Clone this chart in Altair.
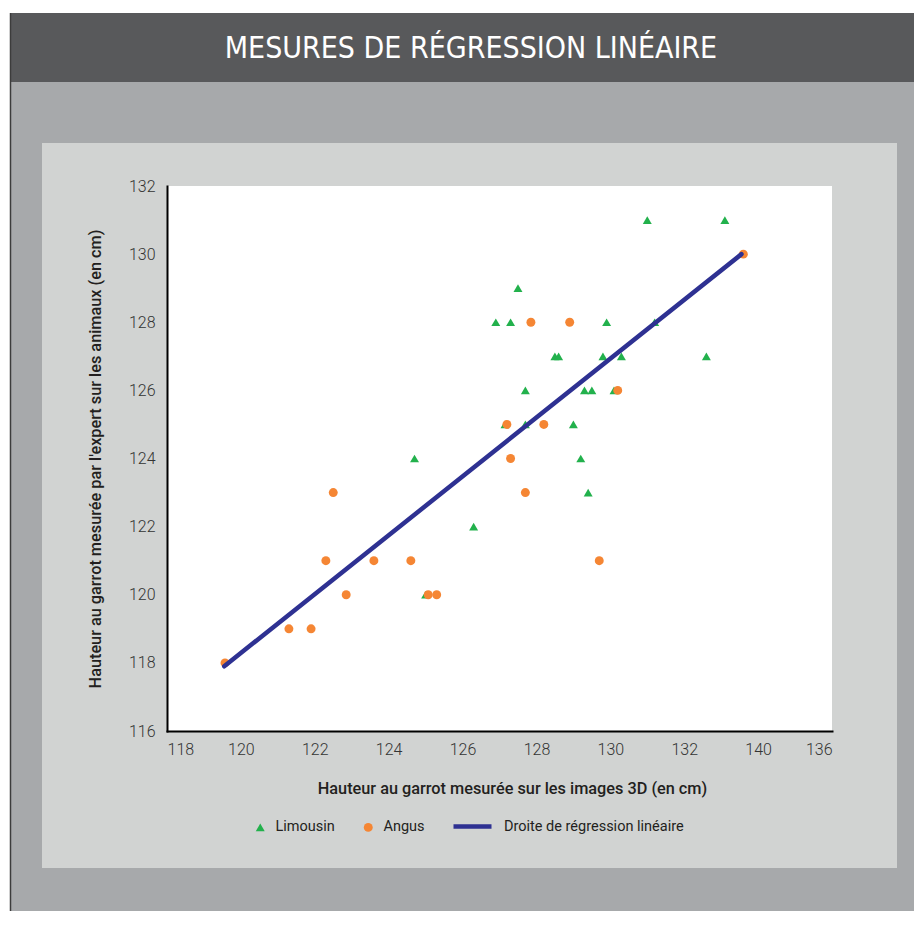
import altair as alt
import pandas as pd

# ---------------- data ----------------
title_text = "MESURES DE RÉGRESSION LINÉAIRE"
x_title = "Hauteur au garrot mesurée sur les images 3D (en cm)"
y_title = "Hauteur au garrot mesurée par l'expert sur les animaux (en cm)"

point_series = ["Limousin", "Angus"]
line_series = ["Droite de régression linéaire"]

lim_x = [131.0, 133.1, 127.5, 126.9, 127.3, 129.9, 131.2, 128.5, 128.6, 129.8,
         130.3, 132.6, 127.7, 129.3, 129.5, 130.1, 127.15, 127.7, 129.0, 124.7,
         129.2, 129.4, 126.3, 125.0]
lim_y = [131, 131, 129, 128, 128, 128, 128, 127, 127, 127,
         127, 127, 126, 126, 126, 126, 125, 125, 125, 124,
         124, 123, 122, 120]

ang_x = [133.6, 127.85, 128.9, 130.2, 127.2, 128.2, 127.3, 122.5, 127.7, 122.3,
         123.6, 124.6, 129.7, 122.85, 125.07, 125.3, 121.3, 121.9, 119.57]
ang_y = [130, 128, 128, 126, 125, 125, 124, 123, 123, 121,
         121, 121, 121, 120, 120, 120, 119, 119, 118]

reg_x = [119.55, 133.55]
reg_y = [117.9, 130.0]

x_tick_values = [118, 120, 122, 124, 126, 128, 130, 132, 134, 136]
x_tick_labels = ["118", "120", "122", "124", "126", "128", "130", "132", "140", "136"]
y_tick_values = [116, 118, 120, 122, 124, 126, 128, 130, 132]

# ---------------- styles ----------------
GREEN = "#22b14c"
ORANGE = "#f58634"
NAVY = "#2e3192"
HEADER = "#58595b"
OUTER = "#a7a9ab"
PANEL = "#d1d3d2"
TXT = "#231f20"

points = pd.DataFrame({
    "x": lim_x + ang_x,
    "y": lim_y + ang_y,
    "series": [point_series[0]] * len(lim_x) + [point_series[1]] * len(ang_x),
})
reg = pd.DataFrame({"x": reg_x, "y": reg_y, "series": line_series * len(reg_x)})

label_expr = "[" + ",".join("'%s'" % s for s in x_tick_labels) + "][(datum.value - 118) / 2]"

x_enc = alt.X("x:Q",
              scale=alt.Scale(domain=[118, 136], nice=False, zero=False),
              axis=alt.Axis(values=x_tick_values, labelExpr=label_expr, title=x_title,
                            ticks=False, grid=False, domainColor="black", domainWidth=2,
                            domainCap="square",
                            labelFont="Roboto", labelFontWeight=300, labelFontSize=16,
                            labelColor="#333333", labelPadding=10,
                            titleFont="Roboto", titleFontWeight=500, titleFontSize=16.3,
                            titleColor=TXT, titleX=345, titleY=62,
                            titleBaseline="alphabetic", zindex=1))
y_enc = alt.Y("y:Q",
              scale=alt.Scale(domain=[116, 132], nice=False, zero=False),
              axis=alt.Axis(values=y_tick_values, title=y_title,
                            ticks=False, grid=False, domainColor="black", domainWidth=2,
                            domainCap="square",
                            labelFont="Roboto", labelFontWeight=300, labelFontSize=16,
                            labelColor="#333333", labelPadding=12,
                            titleFont="Roboto", titleFontWeight=500, titleFontSize=16.3,
                            titleColor=TXT, titleX=-67, titleBaseline="alphabetic",
                            zindex=1))

pt_legend = alt.Legend(orient="none", direction="horizontal", legendX=86, legendY=634,
                       title=None, labelFont="Roboto", labelFontSize=14.5, labelColor=TXT,
                       labelOffset=8, columnPadding=26, symbolSize=80, labelLimit=300,
                       symbolStrokeWidth=0)
ln_legend = alt.Legend(orient="none", direction="horizontal", legendX=284, legendY=619,
                       title=None, labelFont="Roboto", labelFontSize=14.5, labelColor=TXT,
                       labelOffset=10, symbolType="stroke", symbolSize=1444,
                       symbolStrokeWidth=4.5, labelLimit=300)

blank = alt.Data(values=[{}])


def block(x1, x2, y1, y2, color):
    return alt.Chart(blank).mark_rect(color=color).encode(
        x=alt.value(x1), x2=alt.value(x2), y=alt.value(y1), y2=alt.value(y2))


outer = block(-157, 760, -104, 740, OUTER)
header = block(-157, 760, -173, -104, HEADER)
panel = block(-125, 730, -43, 682, PANEL)
plot_bg = block(0, 665, 0, 545, "white")
border = alt.Chart(blank).mark_rule(color="#3c3c3c", strokeWidth=1.5).encode(
    x=alt.value(-156.5), y=alt.value(-173), y2=alt.value(740))

title_mark = alt.Chart(alt.Data(values=[{"t": title_text}])).mark_text(
    font="Liberation Sans Narrow, DejaVu Sans Condensed, sans-serif",
    fontSize=30, color="white", align="center", baseline="alphabetic"
).encode(text="t:N", x=alt.value(304), y=alt.value(-128))

scatter = alt.Chart(points).mark_point(filled=True, opacity=1, size=80).encode(
    x=x_enc, y=y_enc,
    color=alt.Color("series:N", scale=alt.Scale(domain=point_series, range=[GREEN, ORANGE]),
                    legend=pt_legend),
    shape=alt.Shape("series:N", scale=alt.Scale(domain=point_series, range=["triangle-up", "circle"]),
                    legend=pt_legend),
)

line = alt.Chart(reg).mark_line(strokeWidth=4.5, strokeCap="round").encode(
    x=alt.X("x:Q"), y=alt.Y("y:Q"),
    color=alt.Color("series:N", scale=alt.Scale(domain=line_series, range=[NAVY]),
                    legend=ln_legend),
)

chart = alt.layer(outer, header, panel, plot_bg, border, title_mark, scatter, line).resolve_scale(
    color="independent", shape="independent"
).properties(
    width=665, height=545,
    autosize=alt.AutoSizeParams(type="none"),
    padding={"left": 159, "top": 178, "right": 82, "bottom": 180},
).configure(background="white").configure_view(strokeWidth=0)

chart.save("out.html", embed_options={"renderer": "svg", "actions": False})
